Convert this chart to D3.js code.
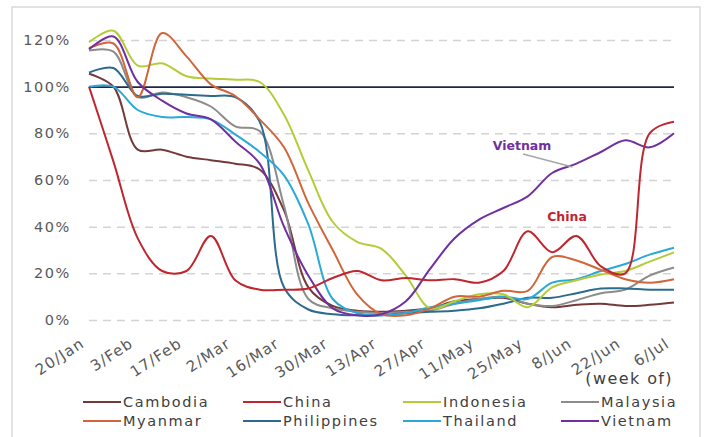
<!DOCTYPE html>
<html><head><meta charset="utf-8">
<script src="https://cdn.jsdelivr.net/npm/d3@7"></script>
<style>
html,body{margin:0;padding:0;background:#fff;}
svg{display:block;font-family:"DejaVu Sans",sans-serif;}
</style></head>
<body><svg id="c" width="707" height="437"></svg>
<script>
const weeks = ["20/Jan","27/Jan","3/Feb","10/Feb","17/Feb","24/Feb","2/Mar","9/Mar","16/Mar","23/Mar","30/Mar","6/Apr","13/Apr","20/Apr","27/Apr","4/May","11/May","18/May","25/May","1/Jun","8/Jun","15/Jun","22/Jun","29/Jun","6/Jul"];
const tickLabels = ["20/Jan","3/Feb","17/Feb","2/Mar","16/Mar","30/Mar","13/Apr","27/Apr","11/May","25/May","8/Jun","22/Jun","6/Jul"];
const yTicks = [0,20,40,60,80,100,120];
const seriesNames = ["Cambodia","China","Indonesia","Malaysia","Myanmar","Philippines","Thailand","Vietnam"];
const seriesColors = ["#743a3a","#c0262e","#b3cc38","#8c8c8c","#d0663a","#2d6b8c","#2aa9d9","#7030a0"];

const cambodia    = [105.5,100,73,73,70,68.5,67,64.5,47,14,6,4,3.5,4,5,8,9,9.5,7,5.5,6.5,7,6,6.5,7.5];
const china       = [100,68,35,21,21,36,17,13,13,13.5,18,21,17,18,17,17.5,16,21,38,29,36,23,20,80,85];
const indonesia   = [119,124,109,110,104.5,103.5,103,102,88,64,42,33.5,30.5,19,5,8,11,11,5.5,14,17,19.5,21,25,29];
const malaysia    = [115.5,115,95.5,97.5,95.5,91.5,83,81,49,9,5,3.5,3,3.5,4,7,9,10,7,6,8.5,11.5,13,19,22.5];
const myanmar     = [116.5,118.5,95.5,123,113,101,96,86,74,50,30,11,2.5,2,5,10,10,12.5,12.5,27,25.5,21.5,17.5,16,17.5];
const philippines = [106,108,96,97,96.5,96,95.5,85,14,4.5,2.5,2,2,3,3.5,4,5,7,9.5,9.5,11.5,13.5,13.5,13,13];
const thailand    = [100,100,90,87,87,86,79.5,72,62,41,9,3,2,3,5.5,7,8.5,10,9,16,17.5,21,24,28,31];
const vietnam     = [116,121.5,102,94,88.5,86,76.5,67,40,19,5,2,2.5,8,22,35,43,48,53,63,67,72,77,74,80];
const seriesValues = [cambodia,china,indonesia,malaysia,myanmar,philippines,thailand,vietnam];

const svg = d3.select("#c");
svg.append("rect").attr("x",12).attr("y",7).attr("width",688).attr("height",440)
  .attr("fill","none").attr("stroke","#d9d9d9").attr("stroke-width",1.5);

const x = d3.scaleLinear().domain([0, weeks.length-1]).range([89, 674]);
const y = d3.scaleLinear().domain([0, 120]).range([320, 40]);

// grid
const grid = svg.append("g").attr("transform","translate(89,0)")
  .call(d3.axisLeft(y).tickValues(yTicks).tickSize(-(674-89)).tickFormat(""));
grid.select(".domain").remove();
grid.selectAll(".tick line")
  .attr("stroke", d => d===100 ? "#1f2744" : "#d4d4d4")
  .attr("stroke-width", d => d===100 ? 1.6 : 1.5)
  .attr("stroke-dasharray", d => d===100 ? null : "8,6");

// y labels
const ya = svg.append("g").attr("transform","translate(71,0)")
  .call(d3.axisLeft(y).tickValues(yTicks).tickSize(0).tickPadding(0).tickFormat(d => d + "%"));
ya.select(".domain").remove();
ya.selectAll("text").attr("fill","#595959").style("font-size","14.5px").style("letter-spacing","1.6px")
  .style("font-family","'DejaVu Sans',sans-serif");

// x labels
const tickIdx = tickLabels.map(t => weeks.indexOf(t));
const xa = svg.append("g").attr("transform","translate(0,326)")
  .call(d3.axisBottom(x).tickValues(tickIdx).tickSize(0).tickPadding(0).tickFormat((d,i) => tickLabels[i]));
xa.select(".domain").remove();
xa.selectAll("text").attr("fill","#595959").style("font-size","15px").style("letter-spacing","1.2px")
  .style("font-family","'DejaVu Sans',sans-serif")
  .attr("text-anchor","end").attr("dy","0").attr("y",0)
  .attr("transform","translate(-4,20) rotate(-33)");

// lines
const line = d3.line().x((d,i) => x(i)).y(d => y(d)).curve(d3.curveCatmullRom.alpha(0.5));
const order = [0,3,5,6,2,4,7,1];
order.forEach(k => {
  svg.append("path").datum(seriesValues[k]).attr("d", line)
    .attr("fill","none").attr("stroke", seriesColors[k]).attr("stroke-width", 2)
    .attr("stroke-linejoin","round");
});

// annotations
svg.append("line").attr("x1",523).attr("y1",154).attr("x2",x(20)-4).attr("y2",y(66)+1)
  .attr("stroke","#a6a6a6").attr("stroke-width",1.3);
svg.append("text").attr("x",522).attr("y",150).attr("text-anchor","middle")
  .attr("fill","#7030a0").style("font-weight","bold").style("font-size","12.5px").text("Vietnam");
svg.append("text").attr("x",567).attr("y",221).attr("text-anchor","middle")
  .attr("fill","#c0262e").style("font-weight","bold").style("font-size","12.5px").text("China");

svg.append("text").attr("x",673).attr("y",384).attr("text-anchor","end")
  .attr("fill","#404040").style("font-size","16px").style("letter-spacing","1.4px").text("(week of)");

// legend
const legX = [83, 243, 403, 561];
const legY = [402, 421];
seriesNames.forEach((n,i) => {
  const col = i % 4, row = Math.floor(i/4);
  const g = svg.append("g").attr("transform",`translate(${legX[col]},${legY[row]})`);
  g.append("line").attr("x1",0).attr("x2",38).attr("y1",0).attr("y2",0)
    .attr("stroke", seriesColors[i]).attr("stroke-width",2);
  g.append("text").attr("x",40).attr("y",5).attr("fill","#404040")
    .style("font-size","14.5px").style("letter-spacing","1.6px").text(n);
});
</script></body></html>
